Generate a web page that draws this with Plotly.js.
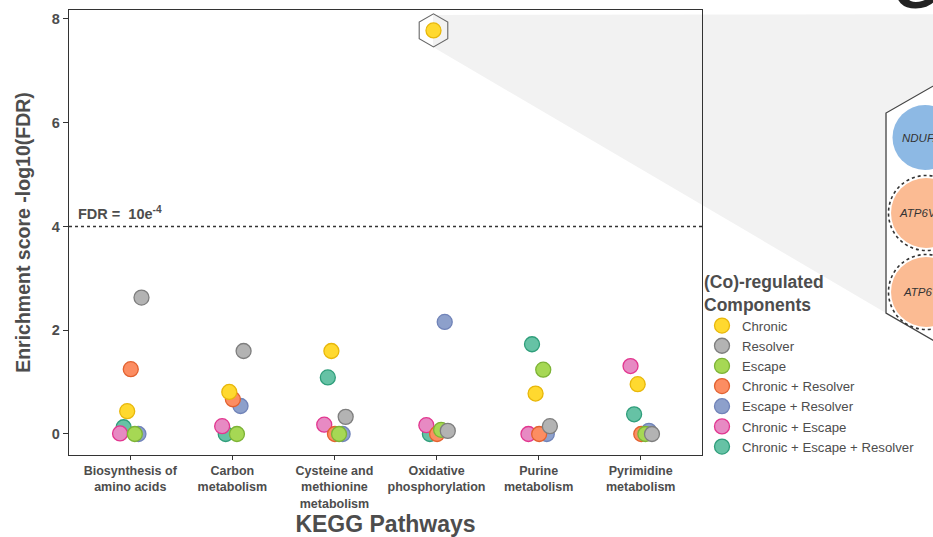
<!DOCTYPE html>
<html>
<head>
<meta charset="utf-8">
<script src="https://cdn.plot.ly/plotly-3.0.1.min.js"></script>
<style>html,body{margin:0;padding:0;background:#fff;}#chart{width:933px;height:537px;}</style>
</head>
<body>
<div id="chart"></div>
<script>
// ---- data ----
const categories = ["Biosynthesis of<br>amino acids", "Carbon<br>metabolism", "Cysteine and<br>methionine<br>metabolism", "Oxidative<br>phosphorylation", "Purine<br>metabolism", "Pyrimidine<br>metabolism"];
const seriesNames = ["Chronic", "Resolver", "Escape", "Chronic + Resolver", "Escape + Resolver", "Chronic + Escape", "Chronic + Escape + Resolver"];
const chronic            = [0.44, 0.81, 1.60, 7.78, 0.78, 0.96];
const resolver           = [2.63, 1.60, 0.33, 0.06, 0.15, 0.00];
const escape             = [0.00, 0.00, 0.00, 0.08, 1.24, 0.00];
const chronicResolver    = [1.25, 0.67, 0.00, 0.00, 0.00, 0.00];
const escapeResolver     = [0.00, 0.54, 0.00, 2.16, 0.00, 0.06];
const chronicEscape      = [0.01, 0.15, 0.18, 0.17, 0.00, 1.31];
const chronicEscapeResolver = [0.13, 0.00, 1.09, 0.00, 1.73, 0.38];
const seriesValues = [chronic, resolver, escape, chronicResolver, escapeResolver, chronicEscape, chronicEscapeResolver];
const yTickVals = [0, 2, 4, 6, 8];
const fdrThreshold = 4;
const insetGenes = ["NDUFA4", "ATP6V1B2", "ATP6V1A"];
const panelLabel = "G";

// ---- styling ----
const dodge = [-0.03, 0.11, 0.045, 0.005, 0.08, -0.10, -0.065];
const fills   = ["#FFD92F", "#B3B3B3", "#A6D854", "#FC8D62", "#8DA0CB", "#E78AC3", "#66C2A5"];
const borders = ["#E8B70A", "#7E7E7E", "#7DB336", "#E2612F", "#7083B8", "#E2368F", "#2F9E7B"];
const FONT = "Liberation Sans, Arial, Helvetica, sans-serif";
const TXT = "#4D4D4D";

// plot area in pixels (for decorations)
const L = 69, R = 702, T = 10, B = 455;
const XR = [-0.6, 5.6], YR = [-0.405, 8.173];
const px = x => (x - L) / (R - L);
const py = y => (B - y) / (B - T);

const traces = [];
// draw in reverse order so the first series ends on top; legend reversed back
for (let s = seriesNames.length - 1; s >= 0; s--) {
  traces.push({
    type: "scatter", mode: "markers", name: seriesNames[s],
    x: categories.map((c, i) => i + dodge[s]),
    y: seriesValues[s],
    marker: {size: 15, color: fills[s], line: {color: borders[s], width: 1.3}},
    hoverinfo: "name+y", cliponaxis: false
  });
}
// hexagon highlight around the top-scoring point
let maxI = 0;
chronic.forEach((v, i) => { if (v > chronic[maxI]) maxI = i; });
traces.push({
  type: "scatter", mode: "markers", showlegend: false, hoverinfo: "skip",
  x: [maxI + dodge[0]], y: [chronic[maxI]],
  marker: {symbol: "hexagon-open", size: 33, color: "#666", line: {width: 1.1, color: "#666"}}, cliponaxis: false
});

function pathPx(pts, close) {
  return pts.map((p, i) => (i ? "L" : "M") + px(p[0]).toFixed(4) + "," + py(p[1]).toFixed(4)).join(" ") + (close ? " Z" : "");
}
function circlePx(cx, cy, r, extra) {
  return Object.assign({type: "circle", xref: "paper", yref: "paper",
    x0: px(cx - r), x1: px(cx + r), y0: py(cy + r), y1: py(cy - r)}, extra);
}

const shapes = [
  {type: "path", xref: "paper", yref: "paper", layer: "below",
   path: pathPx([[433, 15], [1059, 14], [886, 113], [886, 313], [433, 47]], true),
   fillcolor: "#F2F2F2", line: {width: 0}},
  {type: "path", xref: "paper", yref: "paper", layer: "below",
   path: pathPx([[1059, 14], [886, 113], [886, 313], [1059, 413]], false),
   fillcolor: "#FFFFFF", line: {color: "#444", width: 1.3}},
  circlePx(925, 137.5, 32.5, {fillcolor: "#8DB9E4", line: {width: 0}, layer: "below"}),
  circlePx(926, 213, 35, {fillcolor: "#FBBB93", line: {width: 0}, layer: "below"}),
  circlePx(926, 213, 37.5, {fillcolor: "rgba(0,0,0,0)", line: {color: "#333", width: 1.6, dash: "dot"}, layer: "below"}),
  circlePx(926, 292, 35, {fillcolor: "#FBBB93", line: {width: 0}, layer: "below"}),
  circlePx(926, 292, 37.5, {fillcolor: "rgba(0,0,0,0)", line: {color: "#333", width: 1.6, dash: "dot"}, layer: "below"}),
  {type: "line", xref: "paper", yref: "y", x0: 0, x1: 1, y0: fdrThreshold, y1: fdrThreshold,
   line: {color: "#333", width: 1.3, dash: "dot"}}
];

const geneCenters = [[925, 138], [928, 213], [928, 292]];
const annotations = [
  {xref: "paper", yref: "y", x: px(76), y: fdrThreshold, xanchor: "left", yanchor: "bottom", yshift: 2,
   text: "<b>FDR =  10e<sup>-4</sup></b>", showarrow: false, font: {family: FONT, size: 14.5, color: TXT}},
  {xref: "paper", yref: "paper", x: px(915), y: py(-12), xanchor: "center", yanchor: "middle",
   text: "<b>" + panelLabel + "</b>", showarrow: false, font: {family: FONT, size: 58, color: "#222"}}
].concat(insetGenes.map((g, i) => ({
  xref: "paper", yref: "paper", x: px(geneCenters[i][0]), y: py(geneCenters[i][1]),
  xanchor: "center", yanchor: "middle", showarrow: false,
  text: "<i>" + g + "</i>", font: {family: FONT, size: 11.5, color: "#333"}
})));

const layout = {
  width: 933, height: 537,
  margin: {l: L, r: 933 - R, t: T, b: 537 - B, pad: 0},
  paper_bgcolor: "#FFFFFF", plot_bgcolor: "rgba(0,0,0,0)",
  font: {family: FONT, color: TXT},
  showlegend: true,
  legend: {
    x: px(702), y: py(265), xanchor: "left", yanchor: "top",
    bgcolor: "rgba(0,0,0,0)", traceorder: "reversed", itemsizing: "trace",
    font: {family: FONT, size: 13.2, color: TXT},
    title: {text: "<b>(Co)-regulated<br>Components</b>", font: {family: FONT, size: 17.5, color: TXT}}
  },
  xaxis: {
    range: XR, tickvals: categories.map((c, i) => i), ticktext: categories.map(c => "<b>" + c + "</b>"),
    tickfont: {family: FONT, size: 12.5, color: TXT},
    ticks: "outside", ticklen: 4, tickcolor: "#333", tickwidth: 1,
    showline: true, mirror: true, linecolor: "#333", linewidth: 1.2,
    showgrid: false, zeroline: false,
    title: {text: "<b>KEGG Pathways</b>", font: {family: FONT, size: 23, color: TXT}, standoff: 6}
  },
  yaxis: {
    range: YR, tickvals: yTickVals, ticktext: yTickVals.map(v => "<b>" + v + "</b>"),
    tickfont: {family: FONT, size: 14.5, color: TXT},
    ticks: "outside", ticklen: 5, tickcolor: "#333", tickwidth: 1,
    showline: true, mirror: true, linecolor: "#333", linewidth: 1.2,
    showgrid: false, zeroline: false,
    title: {text: "<b>Enrichment score -log10(FDR)</b>", font: {family: FONT, size: 19.5, color: TXT}, standoff: 16}
  },
  shapes: shapes, annotations: annotations
};

Plotly.newPlot("chart", traces, layout, {displayModeBar: false, staticPlot: true});
</script>
</body>
</html>
